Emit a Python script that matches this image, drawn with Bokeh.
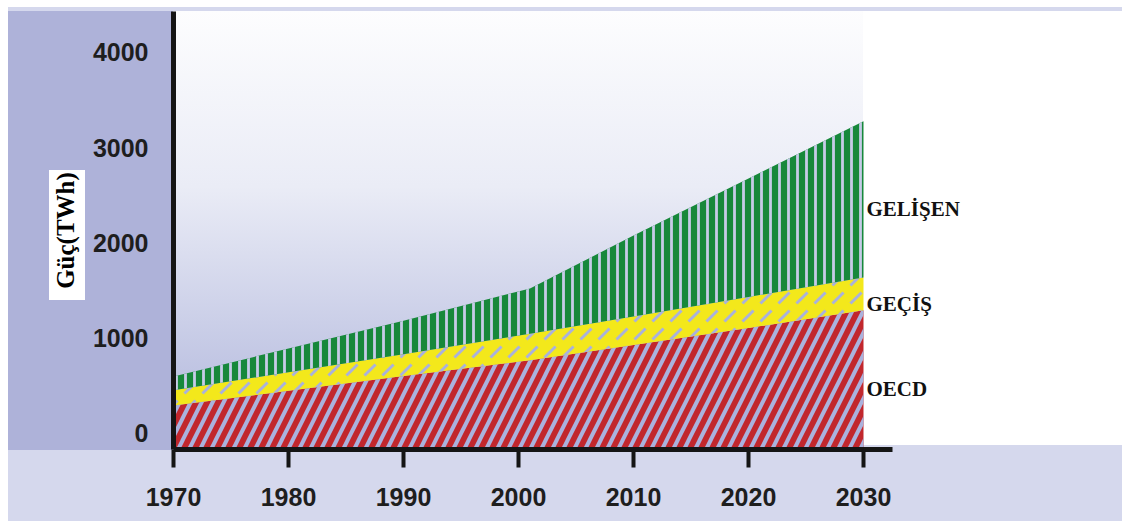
from bokeh.plotting import figure
from bokeh.models import ColumnDataSource, Range1d, LinearAxis, FixedTicker
from bokeh.embed import file_html
from bokeh.resources import INLINE
from bokeh.core.properties import value

# ---------------- data ----------------
years = [1970, 1980, 1990, 2001, 2010, 2020, 2030]
oecd = [440, 595, 750, 915, 1075, 1255, 1440]
gecis = [160, 195, 230, 280, 300, 325, 345]
gelisen = [145, 250, 350, 475, 850, 1245, 1640]
series_names = ["OECD", "GEÇİŞ", "GELİŞEN"]
series_colors = ["#c1272d", "#f3e81b", "#17883b"]
hatch_colors = ["#aab2dd", "#a9b1dc", "#c6cbe8"]
x_ticks = [1970, 1980, 1990, 2000, 2010, 2020, 2030]
y_ticks = [0, 1000, 2000, 3000, 4000]
y_title = "Güç(TWh)"

# cumulative stack
top1 = [a for a in oecd]
top2 = [a + b for a, b in zip(top1, gecis)]
top3 = [a + b for a, b in zip(top2, gelisen)]
base = [0] * len(years)
src = ColumnDataSource(dict(year=years, b0=base, t1=top1, t2=top2, t3=top3))

# ---------------- figure ----------------
PX_PER_UNIT = 0.09525
y_start = -2 / PX_PER_UNIT
y_end = 436 / PX_PER_UNIT
label_shift = 147

p = figure(width=1122, height=521, output_backend="svg", toolbar_location=None,
           x_range=Range1d(1970, 1970 + 949 / 11.5),
           y_range=Range1d(y_start, y_end),
           x_axis_location=None, y_axis_location=None)
p.extra_y_ranges = {"lab": Range1d(y_start - label_shift, y_end - label_shift)}
p.min_border = 0
p.min_border_left = 173
p.min_border_right = 0
p.min_border_top = 11
p.min_border_bottom = 72
p.grid.visible = False
p.outline_line_color = None
p.background_fill_alpha = 0
p.border_fill_alpha = 0

layers = [
    "linear-gradient(#ffffff,#ffffff)",
    "linear-gradient(to bottom,#fdfdfe 0%,#eaecf6 40%,#aeb4db 100%)",
    "linear-gradient(#aeb2d9,#aeb2d9)",
    "linear-gradient(#ffffff,#ffffff)",
    "linear-gradient(#d5d8ed,#d5d8ed)",
]
p.styles = {
    "background-color": "#ffffff",
    "background-image": ",".join(layers),
    "background-position": "49px 170px,173px 11px,8px 11px,863px 11px,8px 7px",
    "background-size": "36px 130px,690px 438px,165px 439px,259px 434px,1114px 514px",
    "background-repeat": "no-repeat",
}

p.varea(x="year", y1="b0", y2="t1", source=src, fill_color=series_colors[0],
        hatch_pattern="/", hatch_color=hatch_colors[0], hatch_scale=22, hatch_weight=4)
p.varea(x="year", y1="t1", y2="t2", source=src, fill_color=series_colors[1],
        hatch_pattern=",", hatch_color=hatch_colors[1], hatch_scale=18, hatch_weight=3)
p.varea(x="year", y1="t2", y2="t3", source=src, fill_color=series_colors[2],
        hatch_pattern="|", hatch_color=hatch_colors[2], hatch_scale=9, hatch_weight=2.8)

# series labels at the right end of the stack
mids = [(top1[-1]) / 2, (top1[-1] + top2[-1]) / 2, (top2[-1] + top3[-1]) / 2]
p.text(x=[years[-1]] * 3, y=mids, text=series_names, x_offset=3, y_offset=10,
       text_baseline="middle", text_align="left",
       text_font=value("Liberation Serif"), text_font_style="bold",
       text_font_size="21px", text_color="#111111")

num_font = "Liberation Sans"

xaxis = LinearAxis(ticker=FixedTicker(ticks=x_ticks), bounds=(1970, 2032.5))
xaxis.axis_line_width = 5
xaxis.axis_line_color = "#151515"
xaxis.major_tick_out = 18
xaxis.major_tick_in = 0
xaxis.major_tick_line_width = 4
xaxis.major_tick_line_color = "#151515"
xaxis.minor_tick_line_color = None
xaxis.major_label_standoff = 20
xaxis.major_label_text_font = num_font
xaxis.major_label_text_font_style = "bold"
xaxis.major_label_text_font_size = "25px"
xaxis.major_label_text_color = "#1e1e1e"
p.add_layout(xaxis, "below")

yaxis = LinearAxis(y_range_name="lab", ticker=FixedTicker(ticks=y_ticks), axis_label=y_title)
yaxis.axis_line_width = 5
yaxis.axis_line_color = "#151515"
yaxis.major_tick_line_color = None
yaxis.minor_tick_line_color = None
yaxis.major_label_standoff = 19
yaxis.major_label_text_font = num_font
yaxis.major_label_text_font_style = "bold"
yaxis.major_label_text_font_size = "25px"
yaxis.major_label_text_color = "#1e1e1e"
yaxis.axis_label_standoff = 11
yaxis.axis_label_text_font = "Liberation Serif"
yaxis.axis_label_text_font_style = "bold"
yaxis.axis_label_text_font_size = "25px"
yaxis.axis_label_text_color = "#000000"
p.add_layout(yaxis, "left")

open("out.html", "w").write(file_html(p, INLINE))
